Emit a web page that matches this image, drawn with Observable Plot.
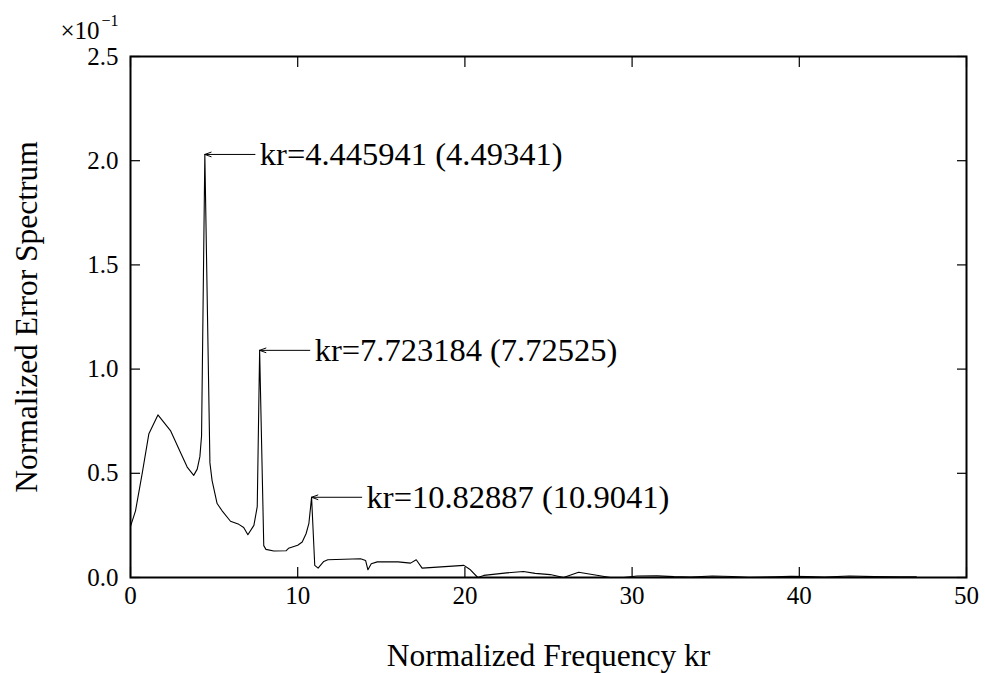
<!DOCTYPE html>
<html>
<head>
<meta charset="utf-8">
<script src="https://cdn.jsdelivr.net/npm/d3@7"></script>
<script src="https://cdn.jsdelivr.net/npm/@observablehq/plot@0.6"></script>
<style>
  html, body { margin: 0; padding: 0; background: #fff; }
</style>
</head>
<body>
<div id="chart"></div>
<script>
// Normalized frequency kr
const kr = [
  0.0, 0.3, 0.7, 1.1, 1.64, 2.39, 2.99, 3.39, 3.78, 3.99, 4.15, 4.25, 4.446, 4.75,
  4.88, 5.18, 5.48, 5.98, 6.48, 6.77, 7.02, 7.38, 7.58, 7.723, 7.97, 8.1, 8.57,
  9.3, 9.45, 10.0, 10.27, 10.5, 10.67, 10.83, 11.02, 11.22, 11.56, 11.8, 13.76,
  14.06, 14.2, 14.4, 14.76, 16.0, 16.75, 17.09, 17.44, 19.94, 20.33, 20.77, 21.13,
  22.5, 23.5, 24.2, 25.1, 25.9, 26.8, 28.7, 29.5, 30.3, 31.5, 32.5, 33.5, 34.8,
  36.0, 37.0, 38.5, 39.5, 40.5, 41.5, 43.0, 44.5, 46.0, 47.0
];
// Normalized error spectrum (x 10^-1)
const spectrum = [
  0.245, 0.32, 0.50, 0.69, 0.78, 0.705, 0.60, 0.53, 0.49, 0.52, 0.58, 0.68, 2.03, 0.55,
  0.465, 0.355, 0.32, 0.27, 0.255, 0.24, 0.205, 0.25, 0.34, 1.09, 0.153, 0.135, 0.127,
  0.128, 0.14, 0.155, 0.17, 0.21, 0.26, 0.385, 0.058, 0.045, 0.077, 0.085, 0.09,
  0.082, 0.037, 0.066, 0.075, 0.075, 0.069, 0.085, 0.045, 0.058, 0.037, 0.0, 0.01,
  0.022, 0.029, 0.02, 0.014, 0.0, 0.025, 0.0, 0.0, 0.007, 0.008, 0.004, 0.002, 0.007,
  0.005, 0.001, 0.003, 0.006, 0.004, 0.002, 0.007, 0.004, 0.003, 0.003
];
// Annotated peaks
const peakKr = [4.446, 7.723, 10.83];
const peakVal = [2.03, 1.09, 0.385];
const peakLabels = ["kr=4.445941 (4.49341)", "kr=7.723184 (7.72525)", "kr=10.82887 (10.9041)"];
// Ticks
const xTicks = [0, 10, 20, 30, 40, 50];
const yTicks = [0.0, 0.5, 1.0, 1.5, 2.0, 2.5];

const series = kr.map((k, i) => ({kr: k, v: spectrum[i]}));
const peaks = peakKr.map((k, i) => ({kr: k, v: peakVal[i], label: peakLabels[i]}));

const font = "'Liberation Serif', 'Times New Roman', serif";
const noText = () => "";

const chart = Plot.plot({
  width: 985,
  height: 673,
  marginLeft: 130,
  marginRight: 19,
  marginTop: 56,
  marginBottom: 96,
  style: {fontFamily: font, background: "#fff", color: "#000", overflow: "visible"},
  x: {domain: [0, 50]},
  y: {domain: [0, 2.5]},
  marks: [
    // tick marks pointing inward on all four sides
    Plot.axisX(xTicks, {anchor: "bottom", tickSize: 10, dy: -10, tickFormat: noText, label: null, strokeWidth: 1.2}),
    Plot.axisX(xTicks, {anchor: "top", tickSize: 10, dy: 10, tickFormat: noText, label: null, strokeWidth: 1.2}),
    Plot.axisY(yTicks, {anchor: "left", tickSize: 10, dx: 10, tickFormat: noText, label: null, strokeWidth: 1.2}),
    Plot.axisY(yTicks, {anchor: "right", tickSize: 10, dx: -10, tickFormat: noText, label: null, strokeWidth: 1.2}),
    // tick labels
    Plot.axisX(xTicks, {anchor: "bottom", tickSize: 0, tickPadding: 9, fontSize: 25, label: null, tickFormat: d => String(d)}),
    Plot.axisY(yTicks, {anchor: "left", tickSize: 0, tickPadding: 12, fontSize: 25, label: null, tickFormat: d3.format(".1f")}),
    // axis titles
    Plot.text(["Normalized Frequency kr"], {frameAnchor: "bottom", dy: 78, textAnchor: "middle", lineAnchor: "middle", fontSize: 31.5, text: d => d}),
    Plot.text(["Normalized Error Spectrum"], {frameAnchor: "left", dx: -104, rotate: -90, textAnchor: "middle", lineAnchor: "middle", fontSize: 31.5, text: d => d}),
    // exponent label
    Plot.text(["×10"], {frameAnchor: "top-left", textAnchor: "end", lineAnchor: "bottom", dx: -31, dy: -18, fontSize: 25, text: d => d}),
    Plot.text(["−1"], {frameAnchor: "top-left", textAnchor: "start", lineAnchor: "bottom", dx: -29, dy: -31, fontSize: 16, text: d => d}),
    // data line
    Plot.line(series, {x: "kr", y: "v", stroke: "#000", strokeWidth: 1.1}),
    // annotations
    Plot.arrow(peaks, {x1: d => d.kr + 3.0, y1: "v", x2: "kr", y2: "v", stroke: "#000", strokeWidth: 1, headLength: 10, headAngle: 40}),
    Plot.text(peaks, {x: "kr", y: "v", text: "label", dx: 55, textAnchor: "start", lineAnchor: "middle", fontSize: 32.5}),
    Plot.frame({stroke: "#000", strokeWidth: 2})
  ]
});

document.getElementById("chart").appendChild(chart);
</script>
</body>
</html>
